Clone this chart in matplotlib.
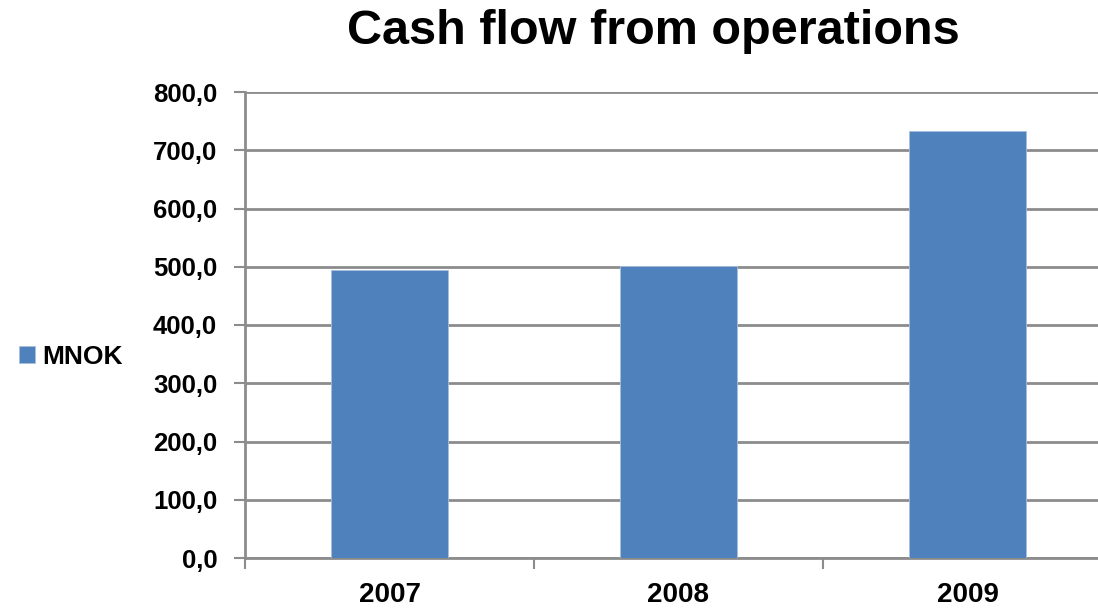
import numpy as np
import matplotlib.pyplot as plt
from matplotlib.ticker import FixedLocator

plt.rcParams['font.family'] = ['Liberation Sans', 'DejaVu Sans']

years = ['2007', '2008', '2009']
mnok = [495.0, 502.0, 733.0]
yticks = [0, 100, 200, 300, 400, 500, 600, 700, 800]
ytick_labels = ['0,0', '100,0', '200,0', '300,0', '400,0', '500,0', '600,0', '700,0', '800,0']

grid_col = '#8c8c8c'

fig = plt.figure(figsize=(10.98, 6.11), dpi=100)
ax = fig.add_axes([245 / 1098, 1 - 558 / 611, (1112 - 245) / 1098, (558 - 92) / 611])

x = np.arange(len(years))
ax.bar(x, mnok, width=0.405, color='#4f81bd', edgecolor='#a7bfdd', linewidth=0.6,
       label='MNOK', zorder=3)

ax.set_xlim(-0.5, len(years) - 0.5)
ax.set_ylim(0, 800)
ax.set_yticks(yticks)
ax.set_yticklabels(ytick_labels, fontsize=18.5, fontweight='bold')
ax.set_xticks(x)
ax.set_xticklabels(years, fontsize=20, fontweight='bold')
ax.xaxis.set_minor_locator(FixedLocator(np.arange(-0.5, len(years), 1.0)))

ax.tick_params(axis='x', which='major', length=0, pad=17)
ax.tick_params(axis='x', which='minor', length=8, width=1.5, color=grid_col, direction='out')
ax.tick_params(axis='y', length=8, width=1.5, color=grid_col, direction='out', pad=12)

ax.grid(axis='y', color=grid_col, linewidth=2, zorder=0)
ax.set_axisbelow(True)
for s in ['top', 'right']:
    ax.spines[s].set_visible(False)
for s in ['left', 'bottom']:
    ax.spines[s].set_color(grid_col)
    ax.spines[s].set_linewidth(2)

fig.text(653 / 1098, 1 - 31 / 611, 'Cash flow from operations', ha='center', va='center',
         fontsize=35, fontweight='bold')

fig.legend(loc='center left', bbox_to_anchor=(-0.004, 1 - 357 / 611), frameon=False,
           prop={'size': 19, 'weight': 'bold'}, handlelength=0.6, handleheight=0.6,
           handletextpad=0.25)

fig.savefig('out.png', dpi=100)
